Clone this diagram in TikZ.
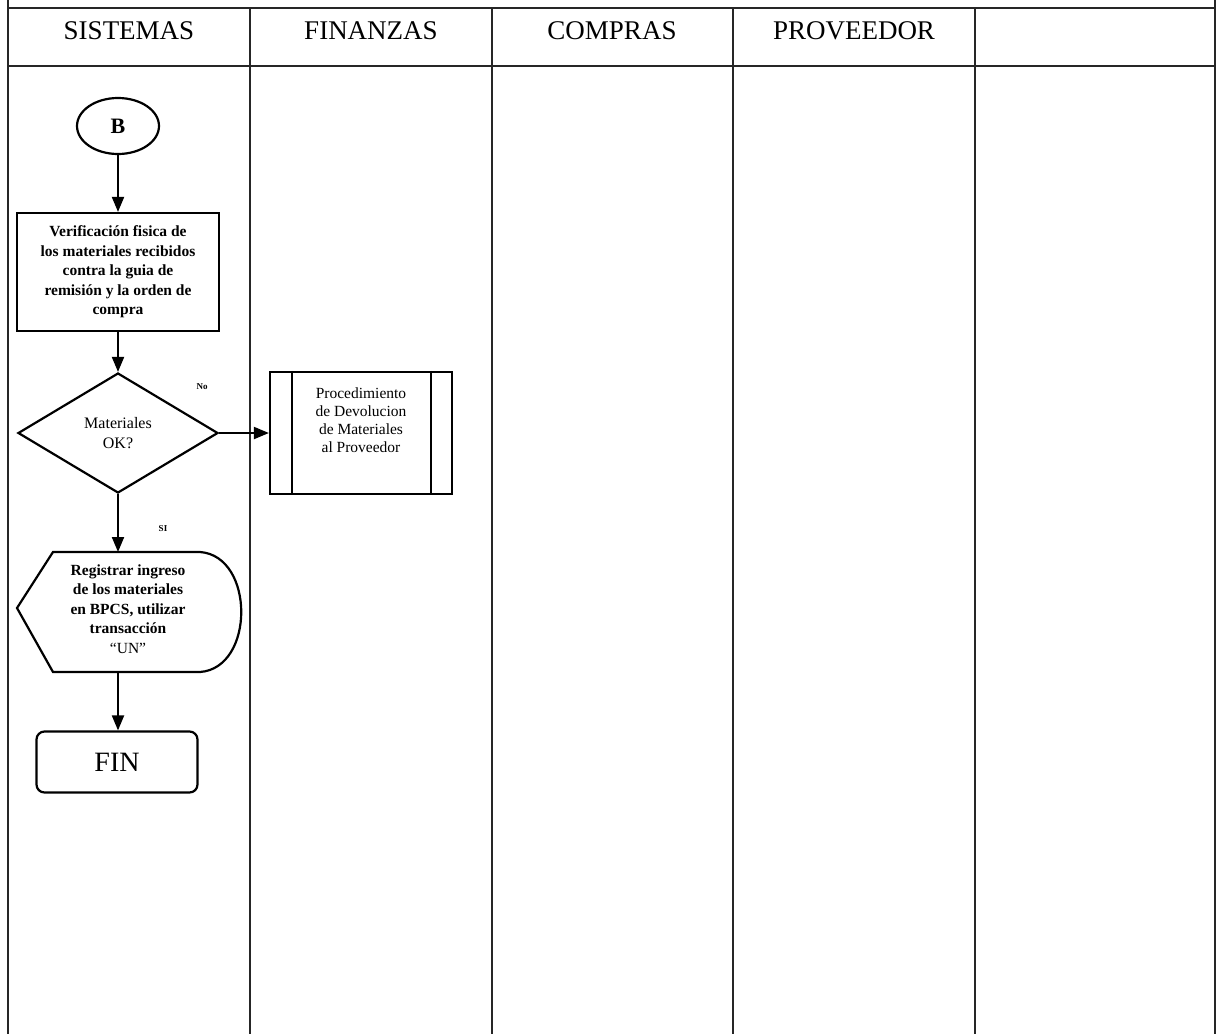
\documentclass[tikz,border=0pt]{standalone}
\usepackage{fontspec}
\setmainfont{Liberation Serif}
\usetikzlibrary{shapes.geometric,shapes.misc,arrows.meta}

\begin{document}
\begin{tikzpicture}[x=1pt,y=-1pt,
  frame/.style={line width=2pt,draw=black!85},
  lanehead/.style={font=\fontsize{27}{30}\selectfont},
  flow/.style={line width=2pt,-{Triangle[length=15pt,width=12pt]}},
  shapeline/.style={draw,line width=2.2pt},
  boxtext/.style={font=\fontsize{15.5}{19.5}\selectfont\bfseries,align=center},
  smalltext/.style={font=\fontsize{15.5}{18}\selectfont,align=center},
  tinylabel/.style={font=\fontsize{9}{10}\selectfont\bfseries}
]
\useasboundingbox (0,0) rectangle (1217,1034);

% swimlane frame
\draw[frame] (8,0) -- (8,1034);
\draw[frame] (1215,0) -- (1215,1034);
\draw[frame] (8,8) -- (1215,8);
\draw[frame] (8,66) -- (1215,66);
\foreach \x in {250,492,733,975}
  \draw[frame] (\x,8) -- (\x,1034);

% lane titles
\node[lanehead] (hsis) at (129,31) {SISTEMAS};
\node[lanehead] (hfin) at (371,31) {FINANZAS};
\node[lanehead] (hcom) at (612,31) {COMPRAS};
\node[lanehead] (hpro) at (854,31) {PROVEEDOR};

% flow shapes
\node[shapeline,ellipse,minimum width=82pt,minimum height=56pt,inner sep=0pt,
      font=\fontsize{22}{24}\selectfont\bfseries] (b) at (118,126) {B};

\node[shapeline,rectangle,minimum width=202pt,minimum height=118pt,inner sep=2pt,
      boxtext] (verif) at (118,272)
  {Verificación fisica de\\los materiales recibidos\\contra la guia de\\remisión y la orden de\\compra};

\node[shapeline,diamond,aspect=1.67,minimum width=200pt,minimum height=120pt,inner sep=0pt,
      font=\fontsize{16}{20}\selectfont,align=center] (dec) at (118,433) {Materiales\\OK?};

% predefined process box
\node[shapeline,rectangle,minimum width=182pt,minimum height=122pt,inner sep=0pt] (proc) at (361,433) {};
\draw[line width=2.2pt] ([xshift=23pt]proc.north west) -- ([xshift=23pt]proc.south west);
\draw[line width=2.2pt] ([xshift=-22pt]proc.north east) -- ([xshift=-22pt]proc.south east);
\node[smalltext,anchor=north] (proctext) at ([yshift=-13pt]proc.north)
  {Procedimiento\\de Devolucion\\de Materiales\\al Proveedor};

% display shape
\coordinate (dtl) at (53,552);
\coordinate (dtr) at (200,552);
\coordinate (dbr) at (200,672);
\coordinate (dbl) at (53,672);
\coordinate (dlp) at (17,608);
\draw[line width=2.2pt] (dlp) -- (dtl) -- (dtr)
  .. controls (255,556) and (255,668) .. (dbr) -- (dbl) -- cycle;
\node[boxtext] (disp) at (128,609)
  {Registrar ingreso\\de los materiales\\en BPCS, utilizar\\transacción\\\normalfont “UN”};
\coordinate (disptop) at (118,552);
\coordinate (dispbot) at (118,672);

\node[shapeline,rounded corners=8pt,minimum width=161pt,minimum height=61pt,
      font=\fontsize{28}{30}\selectfont] (fin) at (117,762) {FIN};

% connectors
\draw[flow] (b.south) -- (verif.north);
\draw[flow] (verif.south) -- (dec.north);
\draw[flow] (dec.east) -- (proc.west);
\draw[flow] (dec.south) -- (disptop);
\draw[flow] (dispbot) -- (fin.north -| dispbot);

% branch labels
\node[tinylabel] (lno) at (202,387) {No};
\node[tinylabel] (lsi) at (163,529) {SI};
\end{tikzpicture}
\end{document}
